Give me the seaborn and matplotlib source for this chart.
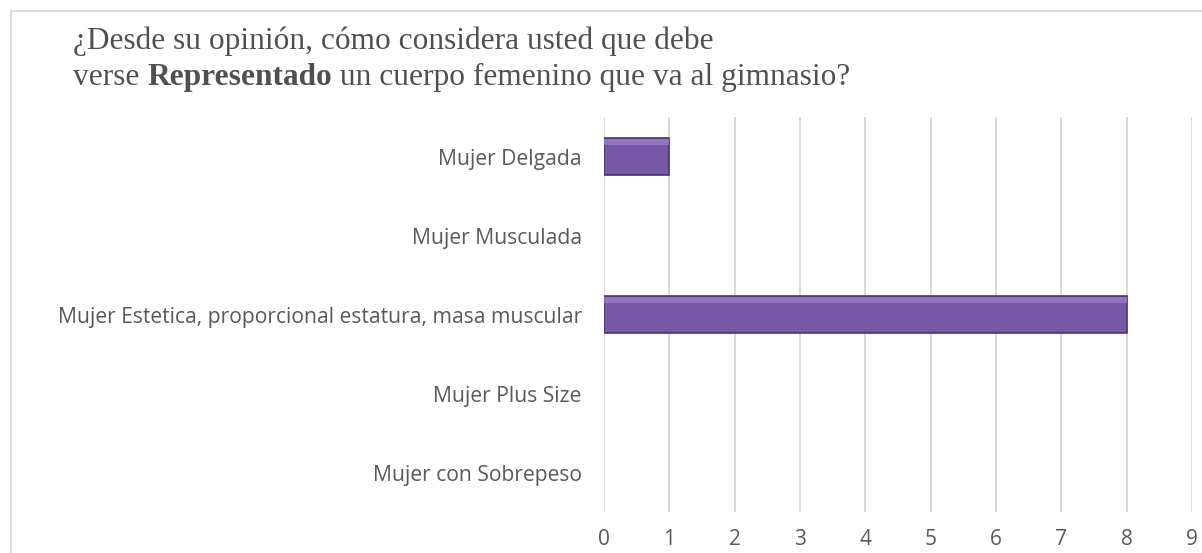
import matplotlib
matplotlib.use("Agg")
import matplotlib.pyplot as plt
import seaborn as sns
import pandas as pd
from matplotlib.patches import Rectangle

categorias = [
    "Mujer Delgada",
    "Mujer Musculada",
    "Mujer Estetica, proporcional estatura, masa muscular",
    "Mujer Plus Size",
    "Mujer con Sobrepeso",
]
valores = [1, 0, 8, 0, 0]
ticks_x = list(range(0, 10))

df = pd.DataFrame({"categoria": categorias, "valor": valores})

sns.set_theme(style="white")
plt.rcParams["font.family"] = ["Open Sans", "DejaVu Sans"]

fig = plt.figure(figsize=(12.02, 5.53), dpi=100)
ax = fig.add_axes([0.5025, 0.0741, 0.4892, 0.7143])

sns.barplot(data=df, x="valor", y="categoria", orient="h", width=0.48,
            color="#7857a6", edgecolor="#4a3372", linewidth=1.2,
            saturation=1, ax=ax)

# brillo superior de las barras (y quitar borde de las barras vacías)
for p in list(ax.patches):
    w = p.get_width()
    if w > 0:
        ax.add_patch(Rectangle((p.get_x(), p.get_y() + p.get_height() * 0.04), w,
                               p.get_height() * 0.16,
                               facecolor="#9a7cc9", edgecolor="none", alpha=0.8,
                               zorder=p.get_zorder() + 0.1))
    else:
        p.set_linewidth(0)

ax.set_xlim(0, 9)
ax.set_xticks(ticks_x)
ax.xaxis.grid(True, color="#d9d9d9", linewidth=1.4)
ax.set_axisbelow(True)
for s in ax.spines.values():
    s.set_visible(False)
ax.tick_params(axis="x", length=0, pad=12, labelsize=15, labelcolor="#595959")
ax.tick_params(axis="y", length=0, pad=16, labelsize=15.2, labelcolor="#595959")
ax.set_xlabel("")
ax.set_ylabel("")

# marco del gráfico
fig.patches.append(Rectangle((0.009, -0.01), 1.0, 0.99, transform=fig.transFigure,
                             fill=False, edgecolor="#d9d9d9", linewidth=1.5))

titulo_fs = 22.6
titulo_color = "#505050"
fig.text(0.061, 0.925, "¿Desde su opinión, cómo considera usted que debe",
         family="Liberation Serif", fontsize=titulo_fs, color=titulo_color, va="center")
t1 = fig.text(0.061, 0.860, "verse ", family="Liberation Serif", fontsize=titulo_fs,
              color=titulo_color, va="center")
fig.canvas.draw()
r = fig.canvas.get_renderer()
x1 = t1.get_window_extent(r).x1 / fig.bbox.width
t2 = fig.text(x1, 0.860, "Representado", family="Liberation Serif", fontsize=titulo_fs,
              fontweight="bold", color=titulo_color, va="center")
x2 = t2.get_window_extent(r).x1 / fig.bbox.width
fig.text(x2, 0.860, " un cuerpo femenino que va al gimnasio?", family="Liberation Serif",
         fontsize=titulo_fs, color=titulo_color, va="center")

fig.savefig("out.png", dpi=100)
